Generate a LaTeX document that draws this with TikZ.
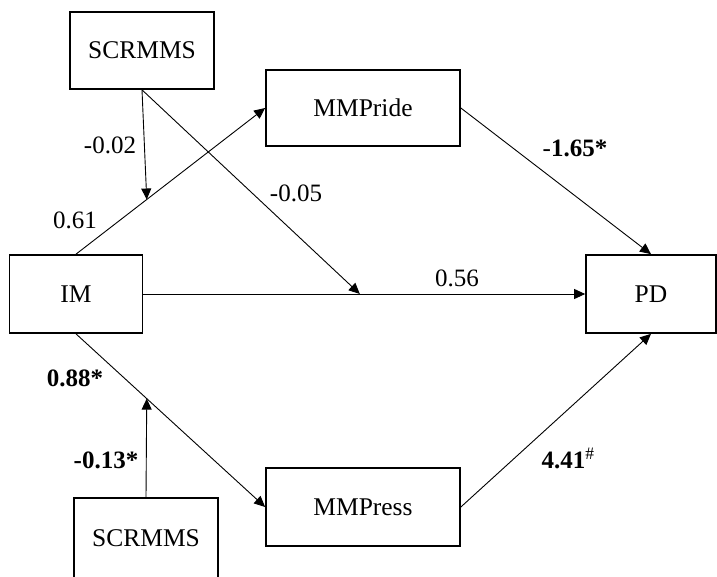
\documentclass[tikz,border=0pt]{standalone}
\usepackage{fontspec}
\setmainfont{Liberation Serif}
\usetikzlibrary{arrows.meta,calc}
\begin{document}
\begin{tikzpicture}[x=1pt,y=-1pt,
  box/.style={draw,line width=1.7pt,inner sep=0pt,font=\fontsize{25.5}{30}\selectfont},
  conn/.style={line width=0.9pt,-{Triangle[length=11pt,width=10pt]}},
  lab/.style={inner sep=0pt,font=\fontsize{25}{30}\selectfont}]
\useasboundingbox (0,0) rectangle (717,576);
\begin{scope}
\clip (0,0) rectangle (717,576);
\node[box,minimum width=144pt,minimum height=77pt,text depth=0pt] (s1) at (142,50.5) {SCRMMS};
\node[box,minimum width=194pt,minimum height=76pt] (mp) at (363,108) {MMPride};
\node[box,minimum width=133pt,minimum height=78pt] (im) at (76,294) {IM};
\node[box,minimum width=130pt,minimum height=78pt] (pd) at (651,294) {PD};
\node[box,minimum width=194pt,minimum height=78pt] (mpr) at (363,507) {MMPress};
\node[box,minimum width=144pt,minimum height=80pt] (s2) at (146,538) {SCRMMS};
\end{scope}
\coordinate (m1) at ($(im.north)!0.374!(mp.west)$);
\coordinate (m2) at ($(im.east)!0.49!(pd.west)$);
\coordinate (m3) at ($(im.south)!0.374!(mpr.west)$);
\draw[conn] (im.north) -- (mp.west);
\draw[conn] (s1.south) -- (m1);
\draw[conn] (s1.south) -- (m2);
\draw[conn] (im.east) -- (pd.west);
\draw[conn] (mp.east) -- (pd.north);
\draw[conn] (im.south) -- (mpr.west);
\draw[conn] (s2.north) -- (m3);
\draw[conn] (mpr.east) -- (pd.south);
\node[lab] (l1) at (110,145) {-0.02};
\node[lab] (l2) at (75,220) {0.61};
\node[lab] (l3) at (296,193) {-0.05};
\node[lab] (l4) at (575,148) {-\textbf{1.65*}};
\node[lab] (l5) at (457,278) {0.56};
\node[lab] (l6) at (75,378) {\textbf{0.88*}};
\node[lab] (l7) at (106,460) {\textbf{-0.13*}};
\node[lab] (l8) at (568,458) {\textbf{4.41}\textsuperscript{\#}};
\end{tikzpicture}
\end{document}
